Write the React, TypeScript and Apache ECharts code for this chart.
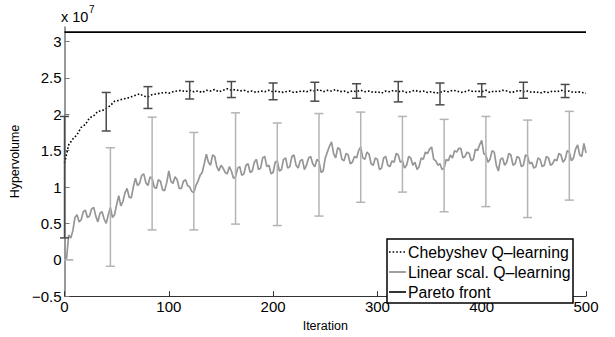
import React, { useEffect, useRef } from 'react';
import * as echarts from 'echarts';

// Iteration steps used for the sampled curves
const CHEB_STEP = 4;
const LIN_STEP = 2;

// Mean hypervolume (x 10^7), Chebyshev Q-learning, iterations 0,4,...,500
const CHEB: number[] = [
  1.33, 1.58, 1.66, 1.72, 1.82, 1.86, 1.95, 1.98, 2.04, 2.05,
  2.08, 2.12, 2.18, 2.19, 2.21, 2.22, 2.24, 2.26, 2.28, 2.25,
  2.24, 2.27, 2.28, 2.29, 2.30, 2.29, 2.31, 2.32, 2.33, 2.31,
  2.33,
  2.31, 2.32, 2.30, 2.33, 2.32, 2.34, 2.31, 2.33, 2.35, 2.33,
  2.34, 2.32, 2.33, 2.31, 2.32, 2.30, 2.32, 2.31, 2.33, 2.31,
  2.32, 2.30, 2.31, 2.32, 2.30, 2.31, 2.32, 2.31, 2.33, 2.32,
  2.34, 2.31, 2.33, 2.32, 2.34, 2.31, 2.32, 2.30, 2.32, 2.31,
  2.33, 2.31, 2.32, 2.30, 2.31, 2.29, 2.32, 2.31, 2.33, 2.31,
  2.32, 2.30, 2.31, 2.33, 2.31, 2.32, 2.30, 2.31, 2.29, 2.30,
  2.32, 2.31, 2.33, 2.32, 2.30, 2.31, 2.33, 2.31, 2.32, 2.31,
  2.33, 2.30, 2.32, 2.31, 2.33, 2.32, 2.30, 2.31, 2.33, 2.31,
  2.32, 2.30, 2.31, 2.29, 2.31, 2.30, 2.32, 2.31, 2.33, 2.31,
  2.32, 2.30, 2.31, 2.30, 2.29,
];

// Mean hypervolume (x 10^7), Linear scalarization Q-learning, iterations 0,2,...,500
const LINEAR: number[] = [
  0.00, 0.02, 0.34, 0.30, 0.40, 0.58, 0.62, 0.52, 0.55, 0.66,
  0.68, 0.58, 0.60, 0.70, 0.72, 0.60, 0.52, 0.64, 0.66, 0.56,
  0.50, 0.62, 0.72, 0.58, 0.62, 0.76, 0.88, 0.74, 0.80, 0.92,
  0.98, 0.86, 0.85, 1.00, 1.12, 1.02, 1.05, 1.16, 1.18, 1.06,
  1.02, 1.14, 1.12, 1.00, 0.98, 1.10, 1.08, 0.96, 0.95, 1.06,
  1.22, 1.08, 1.05, 1.14, 1.10, 0.98, 0.98, 1.08, 1.10, 1.02,
  1.00, 0.94, 0.92, 1.02, 1.08, 1.16, 1.20, 1.32, 1.45, 1.34,
  1.30, 1.44, 1.42, 1.28, 1.22, 1.30, 1.26, 1.20, 1.18, 1.28,
  1.22, 1.12, 1.14, 1.26, 1.28, 1.16, 1.18, 1.30, 1.32, 1.20,
  1.22, 1.34, 1.38, 1.24, 1.26, 1.40, 1.42, 1.28, 1.30, 1.18,
  1.20, 1.34, 1.36, 1.22, 1.24, 1.38, 1.40, 1.26, 1.28, 1.42,
  1.44, 1.30, 1.26, 1.36, 1.38, 1.24, 1.30, 1.40, 1.42, 1.32,
  1.28, 1.38, 1.35, 1.20, 1.22, 1.40, 1.48, 1.56, 1.62, 1.46,
  1.40, 1.54, 1.52, 1.38, 1.36, 1.46, 1.44, 1.32, 1.34, 1.42,
  1.40, 1.50, 1.55, 1.40, 1.38, 1.48, 1.45, 1.32, 1.30, 1.40,
  1.38, 1.24, 1.26, 1.40, 1.42, 1.30, 1.28, 1.36, 1.34, 1.46,
  1.44, 1.34, 1.36, 1.26, 1.30, 1.42, 1.40, 1.30, 1.34, 1.24,
  1.28, 1.40, 1.38, 1.48, 1.46, 1.52, 1.55, 1.38, 1.36, 1.30,
  1.32, 1.24, 1.26, 1.38, 1.36, 1.44, 1.40, 1.50, 1.48, 1.53,
  1.53, 1.40, 1.42, 1.48, 1.46, 1.36, 1.38, 1.52, 1.50, 1.58,
  1.64, 1.46, 1.44, 1.34, 1.38, 1.50, 1.48, 1.30, 1.22, 1.38,
  1.40, 1.30, 1.34, 1.46, 1.44, 1.30, 1.32, 1.42, 1.40, 1.28,
  1.30, 1.44, 1.42, 1.32, 1.34, 1.26, 1.28, 1.40, 1.38, 1.28,
  1.30, 1.42, 1.40, 1.30, 1.32, 1.38, 1.36, 1.46, 1.44, 1.34,
  1.38, 1.50, 1.48, 1.36, 1.40, 1.52, 1.58, 1.44, 1.42, 1.60,
  1.47,
];

const PARETO_VALUE = 3.13;
const PARETO_X = [0, 500];

// Error bars
const CHEB_ERR_X = [0, 40, 80, 120, 160, 200, 240, 280, 320, 360, 400, 440, 480];
const CHEB_ERR_LO = [0.30, 1.77, 2.08, 2.21, 2.23, 2.20, 2.18, 2.22, 2.17, 2.13, 2.24, 2.22, 2.23];
const CHEB_ERR_HI = [1.97, 2.30, 2.38, 2.45, 2.45, 2.43, 2.44, 2.42, 2.45, 2.43, 2.42, 2.44, 2.41];

const LIN_ERR_X = [4, 44, 84, 124, 164, 204, 244, 284, 324, 364, 404, 444, 484];
const LIN_ERR_LO = [0.0, -0.09, 0.41, 0.41, 0.49, 0.47, 0.60, 0.79, 0.93, 0.66, 0.73, 0.58, 0.82];
const LIN_ERR_HI = [0.0, 1.54, 1.96, 1.75, 2.02, 1.88, 2.01, 2.03, 1.97, 1.93, 1.97, 1.92, 2.04];

const X_TICKS = [0, 100, 200, 300, 400, 500];
const Y_TICKS = [-0.5, 0, 0.5, 1, 1.5, 2, 2.5, 3];

const NAMES = ['Chebyshev Q–learning', 'Linear scal. Q–learning', 'Pareto front'];

const FONT = '"Liberation Sans", Arial, Helvetica, sans-serif';

const CHEB_COLOR = '#000';
const LIN_COLOR = '#969696';
const PARETO_COLOR = '#000';
const CHEB_DASH = [1.6, 2];

function errRender(color: string, width: number) {
  return (params: any, api: any) => {
    const x = api.value(0);
    const lo = api.coord([x, api.value(1)]);
    const hi = api.coord([x, api.value(2)]);
    const hw = 4.5;
    const style = { stroke: color, lineWidth: width, fill: 'none' };
    return {
      type: 'group',
      children: [
        { type: 'line', shape: { x1: lo[0], y1: lo[1], x2: hi[0], y2: hi[1] }, style },
        { type: 'line', shape: { x1: lo[0] - hw, y1: lo[1], x2: lo[0] + hw, y2: lo[1] }, style },
        { type: 'line', shape: { x1: hi[0] - hw, y1: hi[1], x2: hi[0] + hw, y2: hi[1] }, style },
      ],
    };
  };
}

export default function App() {
  const ref = useRef<HTMLDivElement>(null);

  useEffect(() => {
    if (!ref.current) return;
    const chart = echarts.init(ref.current, undefined, { renderer: 'svg' });

    const chebData = CHEB.map((v, i) => [i * CHEB_STEP, v]);
    const linData = LINEAR.map((v, i) => [i * LIN_STEP, v]);
    const paretoData = PARETO_X.map((x) => [x, PARETO_VALUE]);
    const chebErr = CHEB_ERR_X.map((x, i) => [x, CHEB_ERR_LO[i], CHEB_ERR_HI[i]]);
    const linErr = LIN_ERR_X.map((x, i) => [x, LIN_ERR_LO[i], LIN_ERR_HI[i]]);

    // Manual legend (MATLAB style box)
    const lgX = 387;
    const lgY = 239;
    const lgW = 186;
    const lgH = 64;
    const rowY = [252, 272, 292];
    const sampleStyles = [
      { stroke: CHEB_COLOR, lineWidth: 1.6, lineDash: CHEB_DASH },
      { stroke: LIN_COLOR, lineWidth: 1.8 },
      { stroke: PARETO_COLOR, lineWidth: 1.6 },
    ];
    const legendGraphics: any[] = [
      {
        type: 'rect',
        shape: { x: lgX, y: lgY, width: lgW, height: lgH },
        style: { fill: '#fff', stroke: '#000', lineWidth: 1.5 },
        z: 100,
      },
    ];
    NAMES.forEach((name, i) => {
      legendGraphics.push({
        type: 'line',
        shape: { x1: lgX + 2, y1: rowY[i], x2: lgX + 19, y2: rowY[i] },
        style: sampleStyles[i],
        z: 101,
      });
      legendGraphics.push({
        type: 'text',
        x: lgX + 21,
        y: rowY[i] + 0.5,
        style: {
          text: name,
          fontSize: 15.8,
          lineHeight: 16,
          fill: '#000',
          fontFamily: FONT,
          verticalAlign: 'middle',
          align: 'left',
        },
        z: 101,
      });
    });

    chart.setOption({
      animation: false,
      backgroundColor: '#fff',
      textStyle: { fontFamily: FONT },
      grid: { left: 61, right: 29, top: 27, bottom: 30 },
      xAxis: {
        type: 'value',
        min: 0,
        max: 500,
        interval: 100,
        name: 'Iteration',
        nameLocation: 'middle',
        nameGap: 15,
        nameTextStyle: { fontSize: 12.5, color: '#000', fontFamily: FONT },
        axisLine: { show: true, onZero: false, lineStyle: { color: '#333', width: 1.2 } },
        axisTick: { show: true, inside: true, length: 5, lineStyle: { color: '#333' } },
        axisLabel: {
          color: '#000',
          fontSize: 15,
          margin: 3,
          fontFamily: FONT,
          customValues: X_TICKS,
        },
        splitLine: { show: false },
      },
      yAxis: {
        type: 'value',
        min: -0.5,
        max: 3.2,
        interval: 0.5,
        name: 'Hypervolume',
        nameLocation: 'middle',
        nameGap: 34,
        nameTextStyle: { fontSize: 12.5, color: '#000', fontFamily: FONT },
        axisLine: { show: true, onZero: false, lineStyle: { color: '#777', width: 1.5 } },
        axisTick: {
          show: true,
          inside: true,
          length: 5,
          lineStyle: { color: '#777' },
          customValues: Y_TICKS,
        },
        axisLabel: {
          color: '#000',
          fontSize: 15,
          margin: 3,
          fontFamily: FONT,
          customValues: Y_TICKS,
          formatter: (v: number) => String(v).replace('-', '−'),
        },
        splitLine: { show: false },
      },
      graphic: [
        {
          type: 'text',
          left: 61,
          top: 9,
          style: { text: 'x 10', fontSize: 14.5, fill: '#000', fontFamily: FONT },
        },
        {
          type: 'text',
          left: 89,
          top: 4,
          style: { text: '7', fontSize: 10, fill: '#000', fontFamily: FONT },
        },
        ...legendGraphics,
      ],
      series: [
        {
          name: NAMES[2],
          type: 'line',
          data: paretoData,
          symbol: 'none',
          lineStyle: { color: PARETO_COLOR, width: 1.6 },
          itemStyle: { color: PARETO_COLOR },
          z: 2,
        },
        {
          name: NAMES[1],
          type: 'line',
          data: linData,
          symbol: 'none',
          lineStyle: { color: LIN_COLOR, width: 1.7 },
          itemStyle: { color: LIN_COLOR },
          z: 3,
        },
        {
          name: 'linErr',
          type: 'custom',
          data: linErr,
          encode: { x: 0, y: [1, 2] },
          renderItem: errRender('#b4b4b4', 1.5),
          clip: false,
          z: 4,
        },
        {
          name: NAMES[0],
          type: 'line',
          data: chebData,
          symbol: 'none',
          lineStyle: { color: CHEB_COLOR, width: 1.6, type: CHEB_DASH },
          itemStyle: { color: CHEB_COLOR },
          z: 5,
        },
        {
          name: 'chebErr',
          type: 'custom',
          data: chebErr,
          encode: { x: 0, y: [1, 2] },
          renderItem: errRender('#4a4a4a', 1.5),
          clip: false,
          z: 6,
        },
      ],
    });

    return () => chart.dispose();
  }, []);

  return (
    <div
      ref={ref}
      style={{ position: 'fixed', left: 0, top: 0, width: 615, height: 337 }}
    />
  );
}
